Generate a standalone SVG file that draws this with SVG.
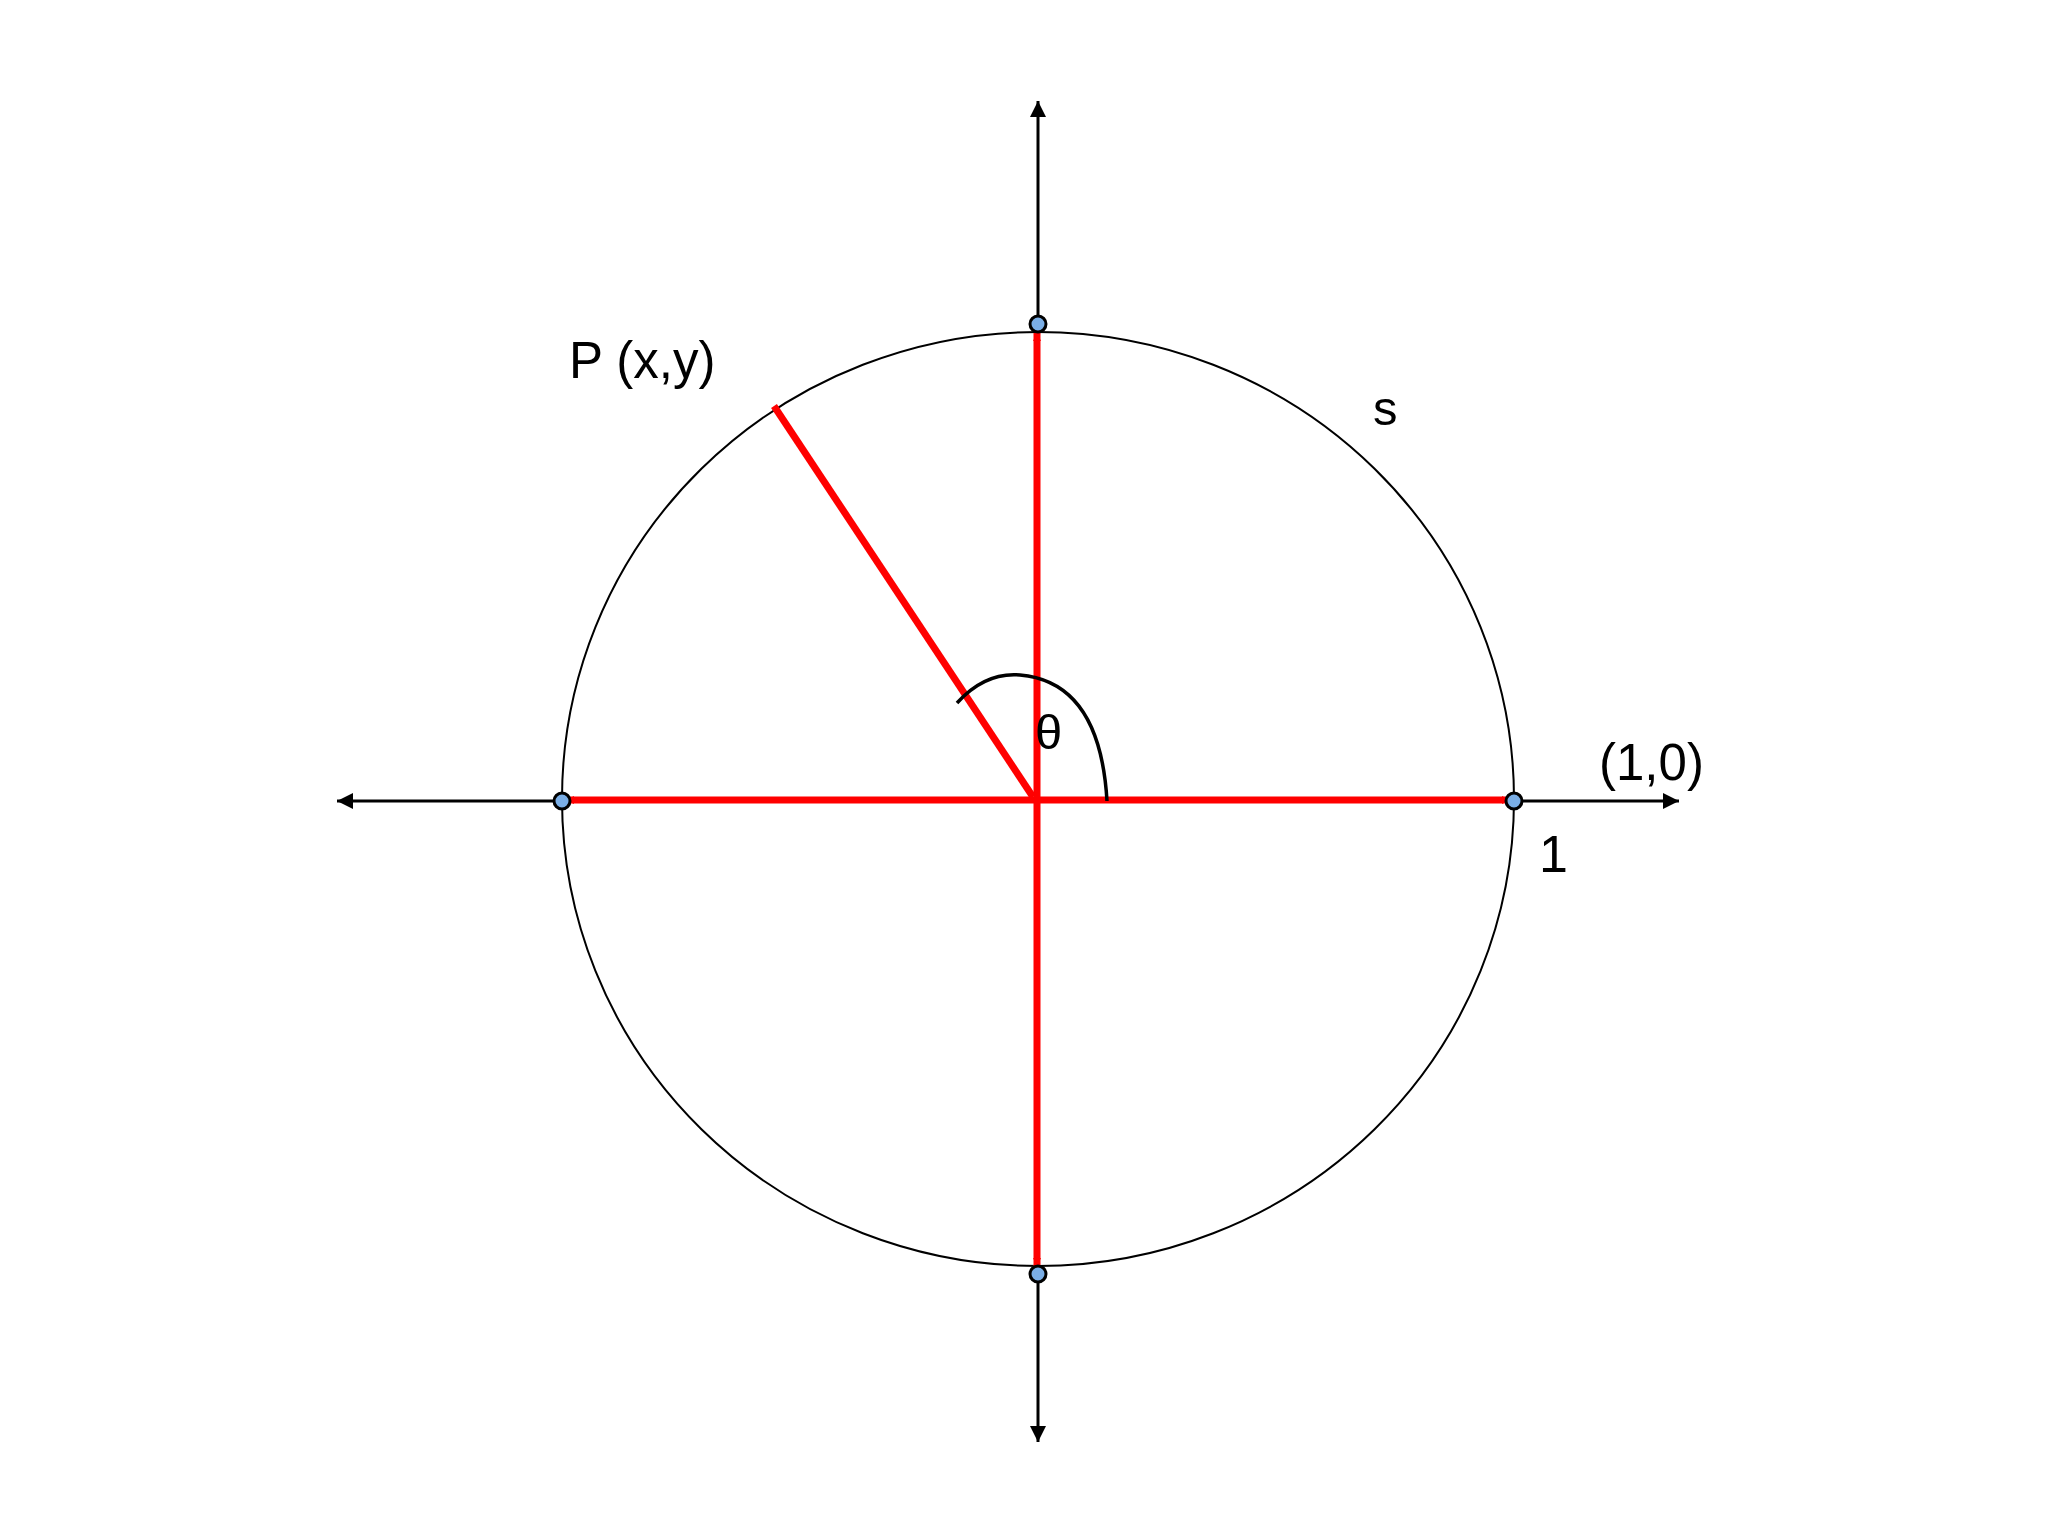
<svg xmlns="http://www.w3.org/2000/svg" width="2048" height="1536" viewBox="0 0 2048 1536">
<style>
.axis{stroke:#000;stroke-width:3;fill:none}
.red{stroke:#ff0000;stroke-width:7;fill:none}
.dot{fill:#7aaee6;stroke:#000;stroke-width:3}
.lbl{font-family:"Liberation Sans",Arial,sans-serif;fill:#000}
</style>
<defs>
<marker id="ah" viewBox="0 0 10 10" refX="10" refY="5" markerWidth="16" markerHeight="17" markerUnits="userSpaceOnUse" orient="auto">
<path d="M0,0 L10,5 L0,10 Z" fill="#000"/>
</marker>
<marker id="rh" viewBox="0 0 10 10" refX="10" refY="5" markerWidth="8" markerHeight="11" markerUnits="userSpaceOnUse" orient="auto">
<path d="M0,0 L10,5 L0,10 Z" fill="#ff0000"/>
</marker>
</defs>
<rect width="2048" height="1536" fill="#fff"/>
<g id="circle">
<ellipse cx="1038" cy="799" rx="476" ry="467" fill="none" stroke="#000" stroke-width="2"/>
</g>
<g id="connectors">
<line class="axis" x1="1038" y1="324" x2="1038" y2="101" marker-end="url(#ah)"/>
<line class="axis" x1="1038" y1="1274" x2="1038" y2="1442" marker-end="url(#ah)"/>
<line class="axis" x1="562" y1="801" x2="337" y2="801" marker-end="url(#ah)"/>
<line class="axis" x1="1514" y1="801" x2="1679" y2="801" marker-end="url(#ah)"/>
<line class="red" x1="1037" y1="800" x2="1037" y2="333" marker-end="url(#rh)"/>
<line class="red" x1="1037" y1="800" x2="1037" y2="1266" marker-end="url(#rh)"/>
<line class="red" x1="1037" y1="800" x2="566" y2="800" marker-end="url(#rh)"/>
<line class="red" x1="1037" y1="800" x2="1510" y2="800" marker-end="url(#rh)"/>
<line class="red" x1="1033" y1="797" x2="774" y2="406"/>
<path d="M957,703 Q985,672 1020,675 Q1100,682 1107,801" fill="none" stroke="#000" stroke-width="3.5"/>
</g>
<g id="points">
<circle class="dot" cx="1038" cy="324" r="8"/>
<circle class="dot" cx="1038" cy="1274" r="8"/>
<circle class="dot" cx="562" cy="801" r="8"/>
<circle class="dot" cx="1514" cy="801" r="8"/>
</g>
<g id="labels">
<text class="lbl" x="569" y="378" font-size="51">P (x,y)</text>
<text class="lbl" x="1373" y="425" font-size="49">s</text>
<text class="lbl" x="1035" y="749" font-size="49">θ</text>
<text class="lbl" x="1539" y="872" font-size="52">1</text>
<text class="lbl" x="1599" y="780" font-size="51">(1,0)</text>
</g>
</svg>
